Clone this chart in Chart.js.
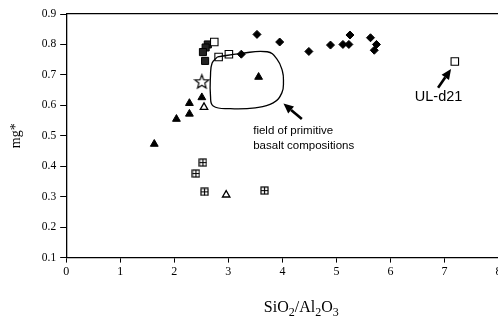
<!DOCTYPE html>
<html><head><meta charset="utf-8">
<script src="https://cdn.jsdelivr.net/npm/chart.js@4.4.0/dist/chart.umd.min.js"></script>
<style>
html,body{margin:0;padding:0;background:#fff;overflow:hidden;width:498px;height:324px}
#wrap{position:relative;width:505px;height:324px}
</style></head>
<body><div id="wrap"><canvas id="c" width="505" height="324"></canvas></div>
<script>
// ---- data ----
const xTicks = [0,1,2,3,4,5,6,7,8];
const yTicks = [0.1,0.2,0.3,0.4,0.5,0.6,0.7,0.8,0.9];

const diamondX = [3.24, 3.53, 3.95, 4.49, 4.89, 5.12, 5.23, 5.25, 5.63, 5.74, 5.70];
const diamondY = [0.768, 0.833, 0.808, 0.777, 0.798, 0.800, 0.800, 0.831, 0.822, 0.800, 0.781];

const openSquareX = [2.74, 2.82, 3.01, 7.19];
const openSquareY = [0.808, 0.759, 0.768, 0.744];

const filledSquareX = [2.62, 2.58, 2.53, 2.57];
const filledSquareY = [0.800, 0.790, 0.775, 0.746];

const starX = [2.51];
const starY = [0.678];

const filledTriX = [3.56, 2.51, 2.28, 2.28, 2.04, 1.63];
const filledTriY = [0.693, 0.626, 0.607, 0.572, 0.555, 0.473];

const openTriX = [2.55, 2.96];
const openTriY = [0.594, 0.306];

const crossSquareX = [2.53, 2.40, 2.56, 3.67];
const crossSquareY = [0.412, 0.376, 0.316, 0.320];

const fieldX = [2.80, 3.22, 3.72, 3.90, 4.00, 4.02, 3.99, 3.83, 3.50, 3.04, 2.72, 2.67, 2.67, 2.70, 2.80];
const fieldY = [0.759, 0.770, 0.776, 0.752, 0.713, 0.680, 0.641, 0.608, 0.592, 0.589, 0.598, 0.631, 0.697, 0.739, 0.759];

const arrowTailX = [4.36, 6.88];
const arrowTailY = [0.555, 0.658];
const arrowTipX  = [4.02, 7.12];
const arrowTipY  = [0.606, 0.719];

const noteText = ['field of primitive', 'basalt compositions', 'UL-d21'];
const noteX = [3.46, 3.46, 6.89];
const noteY = [0.516, 0.467, 0.626];

// x-axis title pieces: [text, isSubscript]
const xTitleParts = [['SiO', false], ['2', true], ['/Al', false], ['2', true], ['O', false], ['3', true]];

// ---- helpers ----
const pts = (xs, ys) => xs.map((x, i) => ({x, y: ys[i]}));
function makeImg(w, h, fn){ const c=document.createElement('canvas'); c.width=w; c.height=h; fn(c.getContext('2d'), w, h); return c; }

const starImg = makeImg(17, 17, (g, w, h) => {
  g.beginPath();
  for (let i = 0; i < 10; i++) {
    const r = i % 2 ? 3.1 : 7.3;
    const a = -Math.PI/2 + i*Math.PI/5;
    const px = w/2 + r*Math.cos(a), py = h/2 + 0.6 + r*Math.sin(a);
    i ? g.lineTo(px, py) : g.moveTo(px, py);
  }
  g.closePath(); g.fillStyle='#fff'; g.fill();
  g.lineWidth=1.2; g.strokeStyle='#000'; g.stroke();
});
const crossSqImg = makeImg(9, 9, (g) => {
  g.strokeStyle='#000'; g.lineWidth=1.2;
  g.strokeRect(1, 1, 7, 7);
  g.beginPath(); g.moveTo(4.5, 1); g.lineTo(4.5, 8); g.moveTo(1, 4.5); g.lineTo(8, 4.5); g.stroke();
});

const serif = '"Liberation Serif", "Times New Roman", "DejaVu Serif", serif';

const annot = {
  id: 'annot',
  afterDatasetsDraw(chart) {
    const {ctx, scales: {x, y}} = chart;
    ctx.save();
    ctx.fillStyle = '#000'; ctx.strokeStyle = '#000';
    for (let i = 0; i < arrowTipX.length; i++) {
      const x0 = x.getPixelForValue(arrowTailX[i]), y0 = y.getPixelForValue(arrowTailY[i]);
      const x1 = x.getPixelForValue(arrowTipX[i]),  y1 = y.getPixelForValue(arrowTipY[i]);
      const a = Math.atan2(y1 - y0, x1 - x0);
      const L = 10, W = 4.5;
      const bx = x1 - L*Math.cos(a), by = y1 - L*Math.sin(a);
      ctx.lineWidth = 2.6;
      ctx.beginPath(); ctx.moveTo(x0, y0); ctx.lineTo(bx, by); ctx.stroke();
      ctx.beginPath();
      ctx.moveTo(x1, y1);
      ctx.lineTo(bx + W*Math.sin(a), by - W*Math.cos(a));
      ctx.lineTo(bx - W*Math.sin(a), by + W*Math.cos(a));
      ctx.closePath(); ctx.fill();
    }
    ctx.textBaseline = 'middle';
    for (let i = 0; i < noteText.length; i++) {
      const px = x.getPixelForValue(noteX[i]), py = y.getPixelForValue(noteY[i]);
      if (noteText[i] === 'UL-d21') { ctx.font = '14.5px "Liberation Sans", Arial, sans-serif'; ctx.textAlign = 'center'; }
      else { ctx.font = '11.5px "Liberation Sans", Arial, sans-serif'; ctx.textAlign = 'left'; }
      ctx.fillText(noteText[i], px, py);
    }
    // x-axis title with real subscripts, placed under the axis as in the reference
    const big = 'px ' + serif;
    let total = 0;
    xTitleParts.forEach(([t, sub]) => { ctx.font = (sub ? 12 : 16) + big; total += ctx.measureText(t).width; });
    let cx = x.getPixelForValue(4.35) - total / 2;
    const base = chart.chartArea.bottom + 54;
    ctx.textAlign = 'left'; ctx.textBaseline = 'alphabetic';
    xTitleParts.forEach(([t, sub]) => {
      ctx.font = (sub ? 12 : 16) + big;
      ctx.fillText(t, cx, base + (sub ? 4 : 0));
      cx += ctx.measureText(t).width;
    });
    ctx.restore();
  }
};

new Chart(document.getElementById('c'), {
  type: 'scatter',
  data: {
    datasets: [
      { data: pts(fieldX, fieldY), showLine: true, tension: 0.45, borderColor: '#000', borderWidth: 1.3, pointRadius: 0, fill: false },
      { data: pts(diamondX, diamondY), pointStyle: 'rectRot', pointRadius: 4, backgroundColor: '#000', borderColor: '#000', borderWidth: 1 },
      { data: pts(openSquareX, openSquareY), pointStyle: 'rect', pointRadius: 5.3, backgroundColor: '#fff', borderColor: '#000', borderWidth: 1.1 },
      { data: pts(filledSquareX, filledSquareY), pointStyle: 'rect', pointRadius: 5, backgroundColor: '#222', borderColor: '#000', borderWidth: 1 },
      { data: pts(filledTriX, filledTriY), pointStyle: 'triangle', pointRadius: 4.5, backgroundColor: '#000', borderColor: '#000', borderWidth: 1 },
      { data: pts(openTriX, openTriY), pointStyle: 'triangle', pointRadius: 4.3, backgroundColor: '#fff', borderColor: '#000', borderWidth: 1.3 },
      { data: pts(crossSquareX, crossSquareY), pointStyle: crossSqImg },
      { data: pts(starX, starY), pointStyle: starImg }
    ]
  },
  options: {
    responsive: false, devicePixelRatio: 1, animation: false,
    layout: { padding: { left: 8, top: 6, right: 0, bottom: 43 } },
    plugins: { legend: { display: false }, tooltip: { enabled: false } },
    scales: {
      x: {
        type: 'linear', min: 0, max: 8,
        afterBuildTicks: s => { s.ticks = xTicks.map(v => ({value: v})); },
        ticks: { color: '#000', font: { family: serif, size: 12 }, padding: 2, maxRotation: 0 },
        grid: { display: true, drawOnChartArea: false, drawTicks: true, tickLength: 5, color: '#000' },
        border: { color: '#000', width: 1.3 },
        title: { display: false }
      },
      x2: {
        type: 'linear', axis: 'x', position: 'top', min: 0, max: 8,
        ticks: { display: false }, grid: { display: false },
        border: { display: true, color: '#000', width: 1.3 }
      },
      y: {
        type: 'linear', min: 0.1, max: 0.9,
        afterBuildTicks: s => { s.ticks = yTicks.map(v => ({value: v})); },
        ticks: { color: '#000', font: { family: serif, size: 11.5 }, padding: 4, callback: v => v.toFixed(1) },
        grid: { display: true, drawOnChartArea: false, drawTicks: true, tickLength: 6, color: '#000' },
        border: { color: '#000', width: 1.3 },
        title: { display: true, text: 'mg*', color: '#000', font: { family: serif, size: 14 }, padding: { top: 0, bottom: 13 } }
      }
    }
  },
  plugins: [annot]
});
</script>
</body></html>
